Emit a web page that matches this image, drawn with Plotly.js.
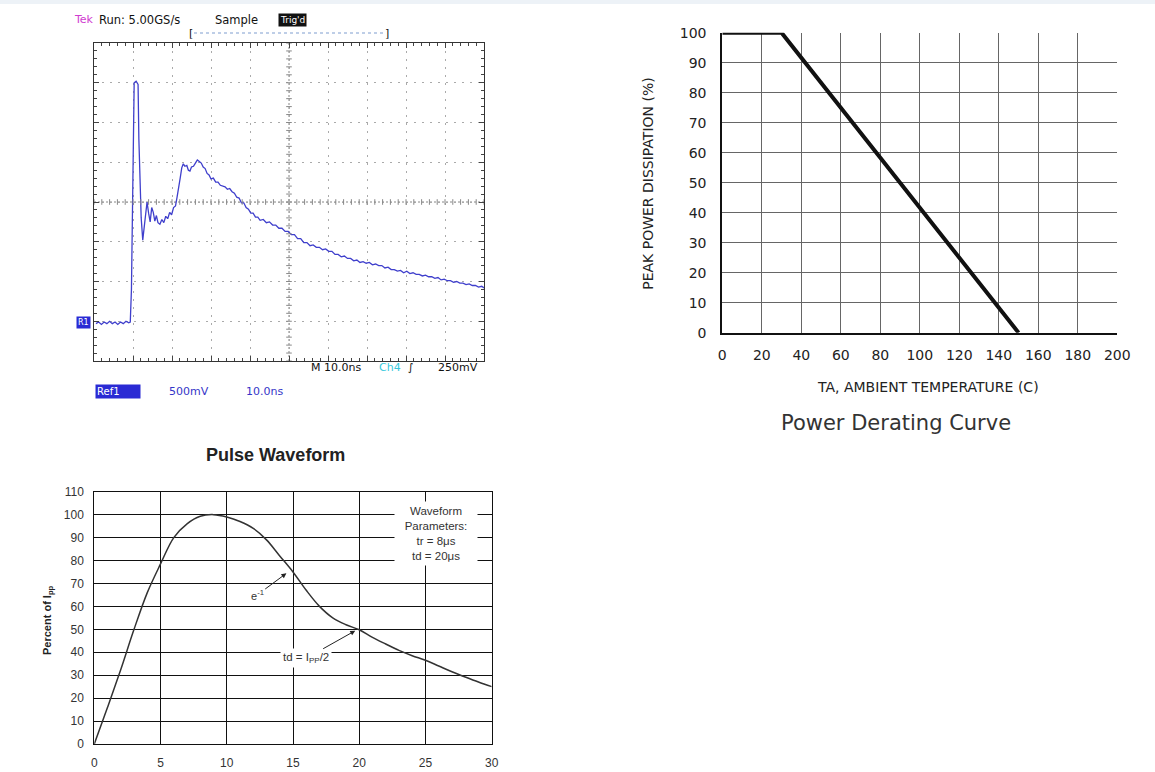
<!DOCTYPE html>
<html><head><meta charset="utf-8">
<script src="https://cdn.plot.ly/plotly-3.0.1.min.js"></script>
<style>html,body{margin:0;padding:0;background:#fff;}#chart{width:1155px;height:772px;}</style>
</head><body><div id="chart"></div>
<script>
// ---------- Oscilloscope capture (Ref1, 500 mV/div, 10 ns/div) ----------
const scopeTimeNs = [0.5,1.2,1.9,2.6,3.3,4.0,4.7,5.4,6.1,6.8,7.5,8.2,8.9,9.3,
 9.6,9.9,10.1,10.3,10.8,11.3,11.5,11.8,12.1,12.5,12.8,13.2,13.6,14.0,14.4,14.8,15.2,15.6,16.0,16.4,16.9,17.4,17.9,18.4,18.9,19.4,19.9,20.4,20.9,21.3,21.7,22.1,22.5,22.9,23.3,23.8,24.2,24.6,25.0,25.5,26.0,26.5,27.0,27.5,28.0,28.5,29.0,29.5,30.0,30.6,31.2,31.8,32.4,33.0,33.6,34.2,34.8,35.4,36.0,36.6,37.2,37.8,38.4,39.0,39.6,40.2,40.8,41.4,42.0,42.6,43.4,44.2,45.0,45.8,46.6,47.4,48.2,49.0,49.8,50.6,51.4,52.2,53.0,53.8,54.6,55.4,56.2,57.0,57.8,58.6,59.4,60.2,61.0,61.8,62.6,63.4,64.2,65.0,65.8,66.6,67.4,68.2,69.0,69.8,70.6,71.4,72.2,73.0,73.8,74.6,75.4,76.2,77.0,77.8,78.6,79.4,80.2,81.0,81.8,82.6,83.4,84.2,85.0,85.8,86.6,87.4,88.2,89.0,89.8,90.6,91.4,92.2,93.0,93.8,94.6,95.4,96.2,97.0,97.8,98.6,99.4,100];
const scopeVolt = [-0.03,-0.01,-0.04,-0.01,-0.03,0.0,-0.03,-0.01,-0.04,-0.01,-0.03,0.0,-0.02,-0.01,
 0.4,1.6,2.6,3.0,3.02,2.98,2.3,1.8,1.3,1.02,1.15,1.40,1.50,1.36,1.25,1.43,1.37,1.26,1.33,1.24,1.22,1.28,1.24,1.32,1.29,1.37,1.34,1.43,1.45,1.56,1.66,1.80,1.93,1.98,1.95,1.96,1.90,1.89,1.94,1.95,1.99,2.03,2.01,1.99,1.94,1.92,1.86,1.84,1.79,1.80,1.75,1.75,1.71,1.70,1.69,1.66,1.67,1.63,1.61,1.56,1.55,1.49,1.49,1.43,1.41,1.36,1.36,1.31,1.31,1.27,1.28,1.24,1.25,1.21,1.21,1.17,1.17,1.13,1.13,1.09,1.09,1.04,1.04,0.99,0.99,0.95,0.96,0.93,0.93,0.90,0.91,0.88,0.88,0.84,0.84,0.81,0.82,0.79,0.79,0.76,0.77,0.74,0.75,0.73,0.74,0.71,0.72,0.70,0.70,0.67,0.68,0.65,0.65,0.63,0.64,0.61,0.63,0.60,0.61,0.59,0.59,0.57,0.58,0.56,0.56,0.54,0.55,0.52,0.53,0.51,0.51,0.49,0.50,0.48,0.48,0.46,0.47,0.45,0.45,0.43,0.44,0.42,0.42];

// ---------- Power derating curve ----------
const ambientTempC = [0, 30, 150];
const peakPowerPct = [100, 100, 0];
const deratingXTicks = [0,20,40,60,80,100,120,140,160,180,200];
const deratingYTicks = [0,10,20,30,40,50,60,70,80,90,100];

// ---------- Pulse waveform ----------
const pulseTimeUs = [0,1,2,3,4,5,6,7,8,9,10,11,12,13,14,15,16,17,18,19,20,21,22,23,24,25,26,27,28,29,30];
const pulsePctIpp = [0,16,32.5,50,66,78.5,90,96,99.3,100,99,97,94,89,82,75,67,60,55,52,49.8,46.5,43.6,40.8,38.5,36.5,34,31.5,29.2,27,25];
const pulseXTicks = [0,5,10,15,20,25,30];
const pulseYTicks = [0,10,20,30,40,50,60,70,80,90,100,110];

const W = 1155, H = 772;
const px = x => x / W;
const py = y => 1 - y / H;

// center graticule tick marks for the scope (decoration built from the axis divisions)
const cTickY = [], cTickYx = [], cTickX = [], cTickXy = [];
for (let k = 0; k <= 40; k++) { cTickY.push(-0.5 + k * 0.1); cTickYx.push(50); }
for (let k = 0; k <= 50; k++) { cTickX.push(k * 2); cTickXy.push(1.5); }

const scopeBlue = '#3f3fcc';

const traces = [
  {x: scopeTimeNs, y: scopeVolt, xaxis: 'x', yaxis: 'y', mode: 'lines',
   line: {color: scopeBlue, width: 1.3}, hoverinfo: 'skip'},
  {x: cTickYx, y: cTickY, xaxis: 'x', yaxis: 'y', mode: 'markers',
   marker: {symbol: 'line-ew', size: 4, line: {width: 1, color: '#888'}}, hoverinfo: 'skip'},
  {x: cTickX, y: cTickXy, xaxis: 'x', yaxis: 'y', mode: 'markers',
   marker: {symbol: 'line-ns', size: 4, line: {width: 1, color: '#888'}}, hoverinfo: 'skip'},
  {x: ambientTempC, y: peakPowerPct, xaxis: 'x2', yaxis: 'y2', mode: 'lines',
   line: {color: '#111', width: 4}, hoverinfo: 'skip'},
  {x: pulseTimeUs, y: pulsePctIpp, xaxis: 'x3', yaxis: 'y3', mode: 'lines',
   line: {color: '#333', width: 1.5, shape: 'spline', smoothing: 1}, hoverinfo: 'skip'}
];

const scopeAx = {
  showgrid: true, gridcolor: '#aaa', griddash: '2px,6px', gridwidth: 1,
  showline: true, linecolor: '#333', linewidth: 1, mirror: 'ticks',
  ticks: 'inside', ticklen: 5, tickcolor: '#444', showticklabels: false, zeroline: false,
  fixedrange: true
};

const dFont = {family: 'DejaVu Sans', size: 14, color: '#222'};
const pFont = {family: 'Liberation Sans, Arial', size: 12, color: '#333'};

const layout = {
  width: W, height: H, margin: {l: 0, r: 0, t: 0, b: 0},
  paper_bgcolor: '#fff', plot_bgcolor: '#fff', showlegend: false,
  xaxis: Object.assign({}, scopeAx, {domain: [px(94), px(484)], range: [0, 100], dtick: 10, anchor: 'y',
    minor: {dtick: 2, ticklen: 3, ticks: 'inside', tickcolor: '#444'}}),
  yaxis: Object.assign({}, scopeAx, {domain: [py(361), py(43)], range: [-0.5, 3.5], dtick: 0.5, anchor: 'x',
    minor: {dtick: 0.1, ticklen: 3, ticks: 'inside', tickcolor: '#444'}}),
  xaxis2: {domain: [px(722.3), px(1117.3)], range: [0, 200], tickvals: deratingXTicks, anchor: 'y2',
    showgrid: true, gridcolor: '#666', gridwidth: 1, showline: true, linecolor: '#111', linewidth: 2,
    ticks: '', ticklabelstandoff: 8, tickfont: dFont, zeroline: false},
  yaxis2: {domain: [py(332.7), py(32.7)], range: [0, 100], tickvals: deratingYTicks, anchor: 'x2',
    showgrid: true, gridcolor: '#666', gridwidth: 1, showline: true, linecolor: '#111', linewidth: 2,
    ticks: '', ticklabelstandoff: 11, tickfont: dFont, zeroline: false},
  xaxis3: {domain: [px(94.3), px(491.7)], range: [0, 30], tickvals: pulseXTicks, anchor: 'y3',
    showgrid: true, gridcolor: '#111', gridwidth: 1, showline: true, linecolor: '#111', linewidth: 1, mirror: true,
    ticks: '', ticklabelstandoff: 8, tickfont: pFont, zeroline: false},
  yaxis3: {domain: [py(744), py(491.7)], range: [0, 110], tickvals: pulseYTicks, anchor: 'x3',
    showgrid: true, gridcolor: '#111', gridwidth: 1, showline: true, linecolor: '#111', linewidth: 1, mirror: true,
    ticks: '', ticklabelstandoff: 7, tickfont: pFont, zeroline: false},
  shapes: [
    {type: 'rect', xref: 'paper', yref: 'paper', x0: 0, x1: 1, y0: py(4), y1: 1, fillcolor: '#edf2f7', line: {width: 0}, layer: 'below'},
    {type: 'line', xref: 'x', yref: 'y', x0: 50, x1: 50, y0: -0.5, y1: 3.5, line: {color: '#888', width: 1, dash: '2px,2px'}, layer: 'below'},
    {type: 'line', xref: 'x', yref: 'y', x0: 0, x1: 100, y0: 1.5, y1: 1.5, line: {color: '#888', width: 1, dash: '2px,2px'}, layer: 'below'},
    {type: 'line', xref: 'paper', yref: 'paper', x0: px(194), x1: px(385), y0: py(33), y1: py(33), line: {color: '#a9bfe0', width: 1.5, dash: 'dot'}}
  ],
  annotations: []
};

const A = layout.annotations;
const sFont = (c, s) => ({family: 'DejaVu Sans', size: s || 11, color: c || '#111'});
function txt(text, x, y, font, extra) {
  A.push(Object.assign({text: text, xref: 'paper', yref: 'paper', x: px(x), y: py(y),
    xanchor: 'left', yanchor: 'middle', showarrow: false, font: font}, extra || {}));
}
// scope header
txt('Tek', 72, 20, sFont('#d03cd0', 11));
txt('Run: 5.00GS/s', 97, 20, sFont('#111', 11.5));
txt('Sample', 213, 20, sFont('#111', 11.5));
txt("Trig'd", 278, 20, {family: 'DejaVu Sans', size: 9, color: '#fff'}, {bgcolor: '#111', borderpad: 1});
txt('[', 187, 33, sFont('#111', 11));
txt(']', 383, 33, sFont('#111', 11));
// scope footer
txt('M 10.0ns', 309, 368, sFont('#111', 11));
txt('Ch4', 377, 368, sFont('#35c8dc', 11));
txt('∫', 406, 368, sFont('#111', 11));
txt('250mV', 436, 368, sFont('#111', 11));
txt('Ref1', 95, 391, {family: 'DejaVu Sans', size: 10, color: '#fff'}, {bgcolor: '#2a2ad4', width: 42, align: 'left', borderpad: 1});
txt('500mV', 167, 391, sFont('#3535c8', 11));
txt('10.0ns', 244, 391, sFont('#3535c8', 11));
txt('R1', 76, 323, {family: 'DejaVu Sans', size: 8, color: '#fff'}, {bgcolor: '#2a2ad4', borderpad: 1});

// derating titles
A.push({text: 'TA, AMBIENT TEMPERATURE (C)', xref: 'paper', yref: 'paper', x: px(928), y: py(387),
  xanchor: 'center', yanchor: 'middle', showarrow: false, font: {family: 'DejaVu Sans', size: 14, color: '#222'}});
A.push({text: 'PEAK POWER DISSIPATION (%)', xref: 'paper', yref: 'paper', x: px(648.3), y: py(183.5),
  xanchor: 'center', yanchor: 'middle', textangle: -90, showarrow: false, font: {family: 'DejaVu Sans', size: 14, color: '#222'}});
A.push({text: 'Power Derating Curve', xref: 'paper', yref: 'paper', x: px(896), y: py(423),
  xanchor: 'center', yanchor: 'middle', showarrow: false, font: {family: 'DejaVu Sans', size: 21, color: '#333'}});

// pulse titles & notes
A.push({text: '<b>Pulse Waveform</b>', xref: 'paper', yref: 'paper', x: px(275), y: py(455),
  xanchor: 'center', yanchor: 'middle', showarrow: false, font: {family: 'Liberation Sans, Arial', size: 18, color: '#222'}});
A.push({text: '<b>Percent of I<sub>pp</sub></b>', xref: 'paper', yref: 'paper', x: px(48), y: py(620),
  xanchor: 'center', yanchor: 'middle', textangle: -90, showarrow: false, font: {family: 'Liberation Sans, Arial', size: 11, color: '#222'}});
A.push({text: 'Waveform<br>Parameters:<br>tr = 8μs<br>td = 20μs', xref: 'x3', yref: 'y3', x: 25.8, y: 91.8,
  xanchor: 'center', yanchor: 'middle', showarrow: false, bgcolor: '#fff', borderpad: 3, width: 76,
  font: {family: 'Liberation Sans, Arial', size: 11.5, color: '#333'}});
A.push({text: 'e<sup>-1</sup>', xref: 'x3', yref: 'y3', x: 14.5, y: 74.4, axref: 'x3', ayref: 'y3', ax: 12.3, ay: 65,
  showarrow: true, arrowhead: 2, arrowsize: 1, arrowwidth: 1, arrowcolor: '#222',
  font: {family: 'Liberation Sans, Arial', size: 11, color: '#333'}});
A.push({text: 'td = I<sub>PP</sub>/2', xref: 'x3', yref: 'y3', x: 19.7, y: 49.4, axref: 'x3', ayref: 'y3', ax: 16.0, ay: 37.4,
  showarrow: true, arrowhead: 2, arrowsize: 1, arrowwidth: 1, arrowcolor: '#222', bgcolor: '#fff', borderpad: 2,
  font: {family: 'Liberation Sans, Arial', size: 11.5, color: '#333'}});

Plotly.newPlot('chart', traces, layout, {staticPlot: true, displayModeBar: false});
</script>
</body></html>
